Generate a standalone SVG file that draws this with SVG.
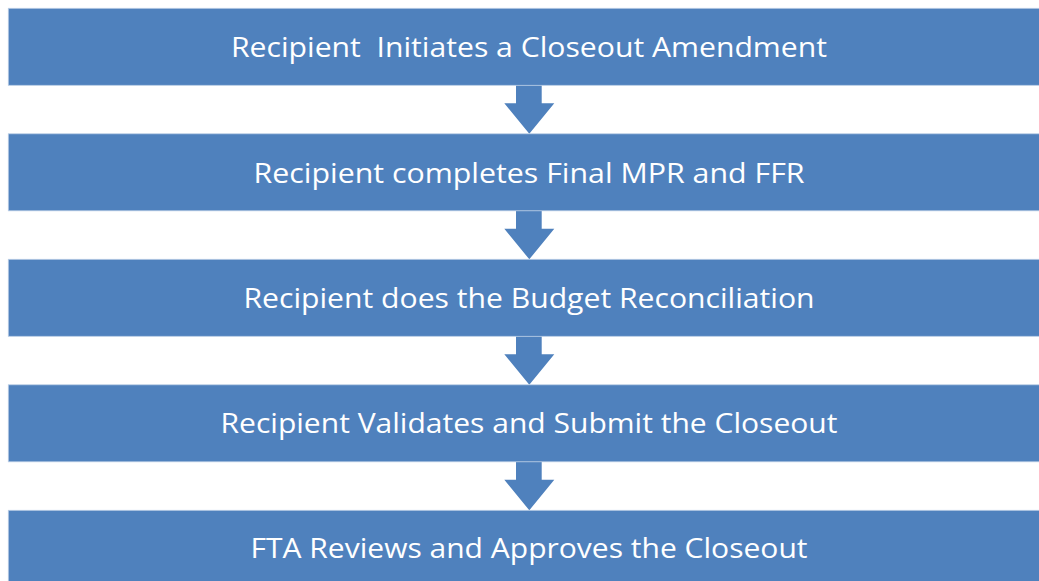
<svg xmlns="http://www.w3.org/2000/svg" width="1039" height="581" viewBox="0 0 1039 581">
<style>
.box{fill:#4F81BD;stroke:#B9CDE5;stroke-width:0.8}
.lbl{font-family:"Open Sans","Liberation Sans",sans-serif;font-size:27px;fill:#FFFFFF;text-anchor:middle;white-space:pre}
.arr{fill:#4F81BD}
</style>
<rect width="1039" height="581" fill="#FFFFFF"/>
<g id="connectors">
<path class="arr" d="M516,85.3 H541.7 V103.3 H554.3 L529.3,133.8 L504.3,103.3 H516 Z"/>
<path class="arr" d="M516,210.8 H541.7 V228.8 H554.3 L529.3,259.3 L504.3,228.8 H516 Z"/>
<path class="arr" d="M516,336.3 H541.7 V354.3 H554.3 L529.3,384.8 L504.3,354.3 H516 Z"/>
<path class="arr" d="M516,461.8 H541.7 V479.8 H554.3 L529.3,510.3 L504.3,479.8 H516 Z"/>
</g>
<g id="node1">
<rect class="box" x="8.3" y="8.3" width="1040" height="77"/>
<text class="lbl" x="529" y="57.3" textLength="596" lengthAdjust="spacingAndGlyphs">Recipient  Initiates a Closeout Amendment</text>
</g>
<g id="node2">
<rect class="box" x="8.3" y="133.8" width="1040" height="77"/>
<text class="lbl" x="529" y="183.1" textLength="551" lengthAdjust="spacingAndGlyphs">Recipient completes Final MPR and FFR</text>
</g>
<g id="node3">
<rect class="box" x="8.3" y="259.3" width="1040" height="77"/>
<text class="lbl" x="529" y="308" textLength="571" lengthAdjust="spacingAndGlyphs">Recipient does the Budget Reconciliation</text>
</g>
<g id="node4">
<rect class="box" x="8.3" y="384.8" width="1040" height="77"/>
<text class="lbl" x="529" y="432.8" textLength="617" lengthAdjust="spacingAndGlyphs">Recipient Validates and Submit the Closeout</text>
</g>
<g id="node5">
<rect class="box" x="8.3" y="510.3" width="1040" height="77"/>
<text class="lbl" x="529" y="558.3" textLength="557" lengthAdjust="spacingAndGlyphs">FTA Reviews and Approves the Closeout</text>
</g>
</svg>
